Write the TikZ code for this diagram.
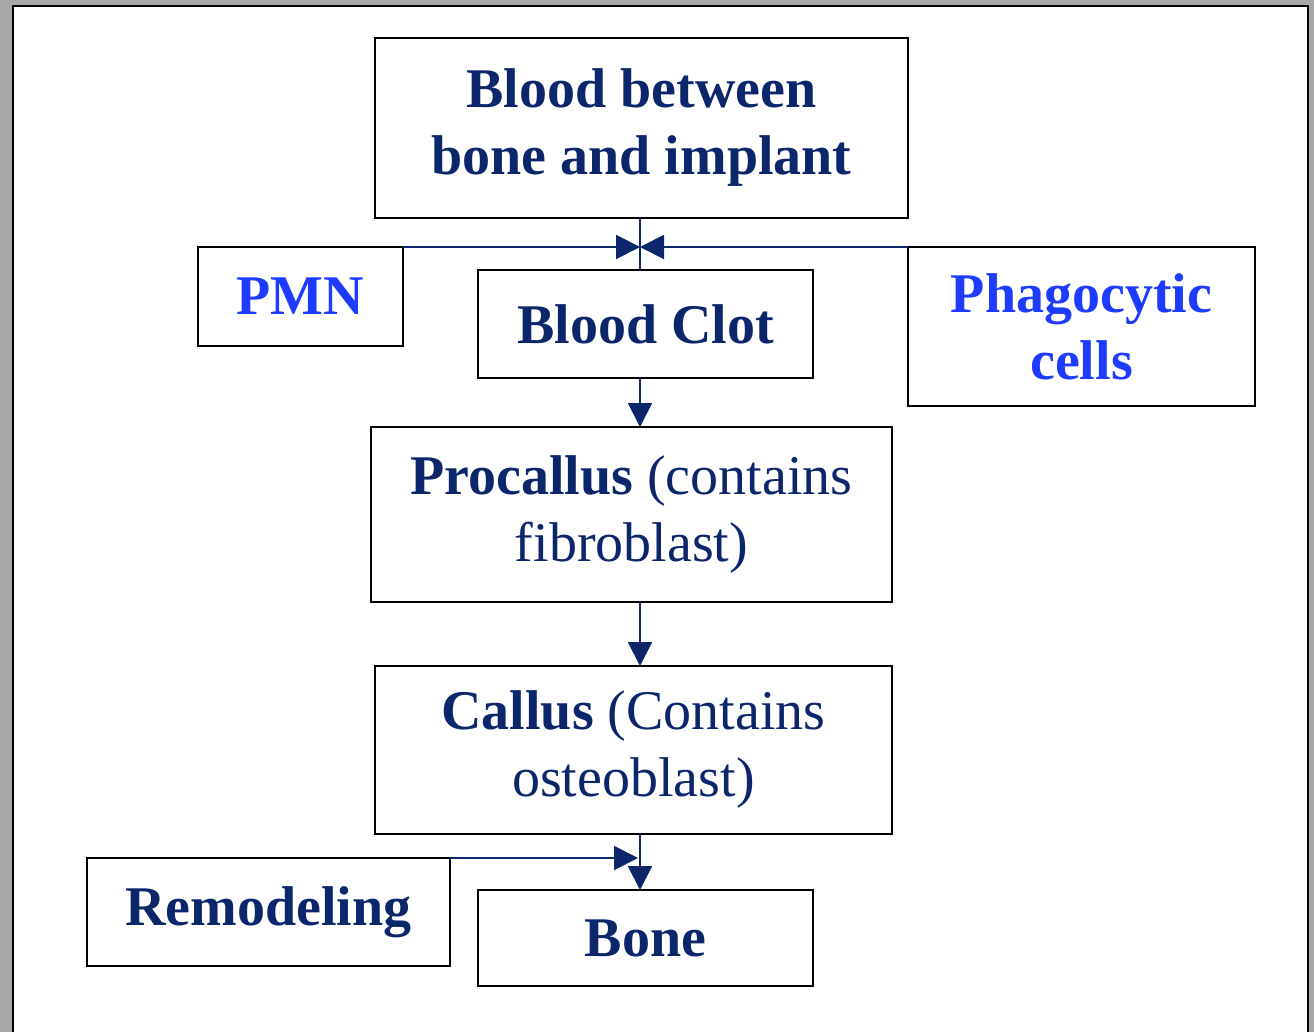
\documentclass[tikz,border=0pt]{standalone}
\usepackage{fontspec}
\setmainfont{Liberation Serif}
\usetikzlibrary{arrows.meta}
\definecolor{navy}{RGB}{12,38,108}
\definecolor{lblue}{RGB}{30,60,255}
\definecolor{framegray}{RGB}{168,168,168}
\begin{document}
\begin{tikzpicture}[x=1pt,y=-1pt,
  box/.style={draw=black, line width=2.8pt, fill=white, inner sep=0pt, outer sep=0pt, align=center,
    font=\fontsize{56}{67}\selectfont, text=navy},
  bluetext/.style={text=lblue},
  arr/.style={draw=navy, line width=2pt, -{Triangle[width=24pt,length=24pt]}},
  plain/.style={draw=navy, line width=2pt}]
\useasboundingbox (0,0) rectangle (1314,1032);
\fill[framegray] (0,0) rectangle (1314,1032);
\begin{scope}
\clip (0,0) rectangle (1314,1032);
\draw[fill=white, line width=2.6pt] (13,6) rectangle (1308,1060);
\end{scope}
% nodes
\node[box, minimum width=533pt, minimum height=180pt] (top) at (641.5,128) {\textbf{Blood between}\\\textbf{bone and implant}};
\node[box, bluetext, minimum width=205pt, minimum height=99pt] (pmn) at (300.5,296.5) {\textbf{PMN}};
\node[box, minimum width=335pt, minimum height=108pt] (clot) at (645.5,324) {\textbf{Blood Clot}};
\node[box, bluetext, minimum width=347pt, minimum height=159pt] (phag) at (1081.5,326.5) {\textbf{Phagocytic}\\\textbf{cells}};
\node[box, minimum width=521pt, minimum height=175pt] (pro) at (631.5,514.5) {\textbf{Procallus} (contains\\fibroblast)};
\node[box, minimum width=517pt, minimum height=168pt] (cal) at (633.5,750) {\textbf{Callus} (Contains\\osteoblast)};
\node[box, minimum width=363pt, minimum height=108pt] (rem) at (268.5,912) {\textbf{Remodeling}};
\node[box, minimum width=335pt, minimum height=96pt] (bone) at (645.5,938) {\textbf{Bone}};
% junction coordinates
\coordinate (j1) at (640,247);
\coordinate (j2) at (638,858);
\coordinate (cx) at (640,0);
% connectors
\draw[plain] (top.south -| cx) -- (clot.north -| cx);
\draw[arr] (pmn.north east |- j1) -- (j1);
\draw[arr] (phag.north west |- j1) -- (j1);
\draw[arr] (clot.south -| cx) -- (pro.north -| cx);
\draw[arr] (pro.south -| cx) -- (cal.north -| cx);
\draw[arr] (cal.south -| cx) -- (bone.north -| cx);
\draw[arr] (rem.north east |- j2) -- (j2);
\end{tikzpicture}
\end{document}
